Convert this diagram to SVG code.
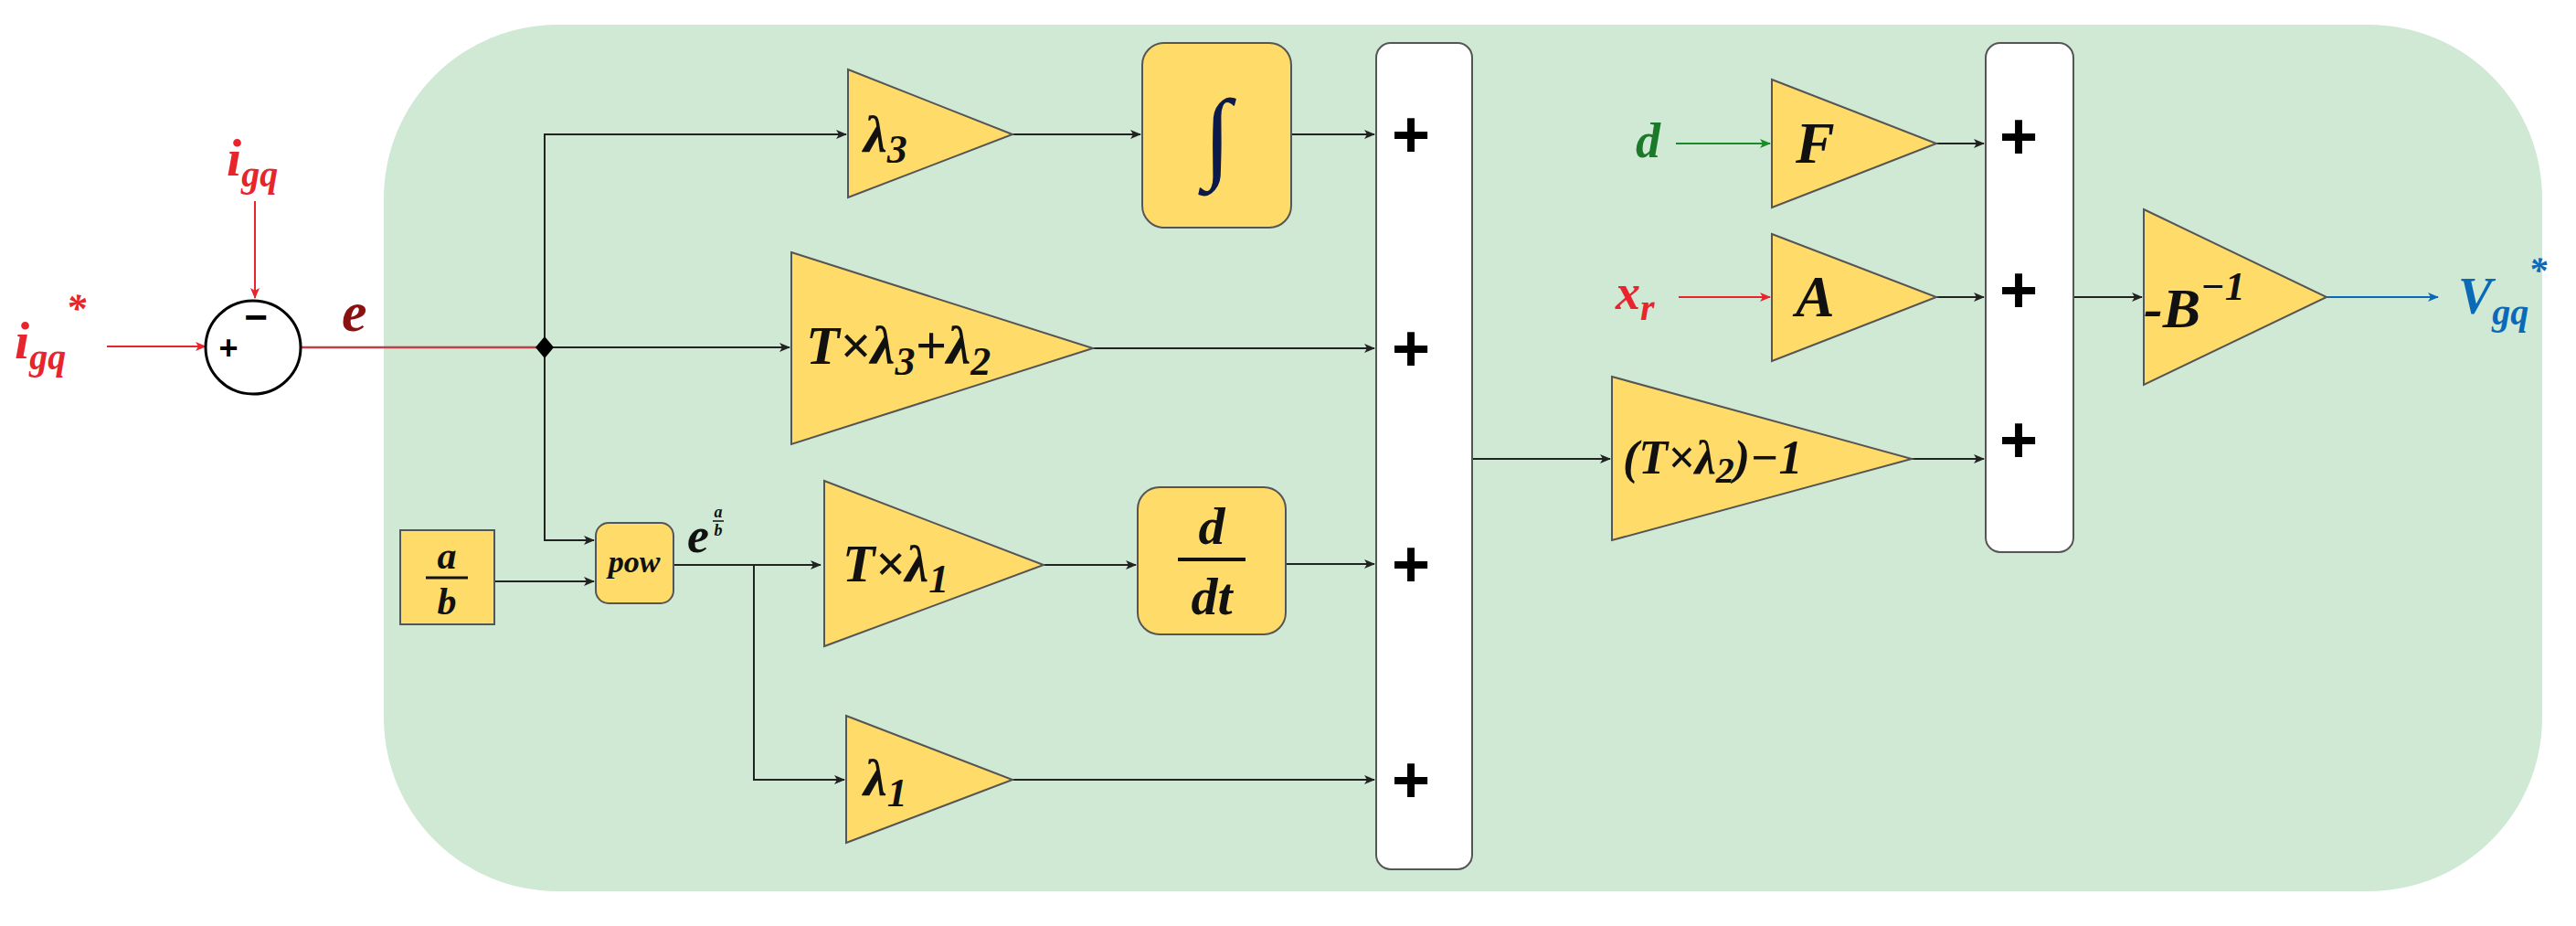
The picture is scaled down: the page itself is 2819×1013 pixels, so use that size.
<svg xmlns="http://www.w3.org/2000/svg" width="2819" height="1013" viewBox="0 0 2819 1013">
<defs>
<style>
.tri{fill:#ffdc6a;stroke:#555;stroke-width:2}
.box{fill:#ffdc6a;stroke:#555;stroke-width:2}
.sum{fill:#fff;stroke:#555;stroke-width:2}
.w{stroke:#222;stroke-width:2;fill:none}
.t{font-family:"Liberation Serif",serif;font-weight:bold;font-style:italic;fill:#111}
.p{font-family:"Liberation Sans",sans-serif;font-weight:bold;fill:#000;font-size:72px;text-anchor:middle}
</style>
<marker id="ak" markerWidth="12" markerHeight="10" refX="11" refY="5" orient="auto" markerUnits="userSpaceOnUse"><path d="M0,0 L12,5 L0,10 L3,5z" fill="#222"/></marker>
<marker id="ar" markerWidth="12" markerHeight="10" refX="11" refY="5" orient="auto" markerUnits="userSpaceOnUse"><path d="M0,0 L12,5 L0,10 L3,5z" fill="#e8242c"/></marker>
<marker id="ag" markerWidth="12" markerHeight="10" refX="11" refY="5" orient="auto" markerUnits="userSpaceOnUse"><path d="M0,0 L12,5 L0,10 L3,5z" fill="#1a8a2a"/></marker>
<marker id="ab" markerWidth="12" markerHeight="10" refX="11" refY="5" orient="auto" markerUnits="userSpaceOnUse"><path d="M0,0 L12,5 L0,10 L3,5z" fill="#0a6ab8"/></marker>
</defs>
<rect x="420" y="27" width="2362" height="948" rx="190" fill="#cfe9d4"/>
<g id="connectors">
<line x1="279" y1="220" x2="279" y2="326" stroke="#e8242c" stroke-width="2" marker-end="url(#ar)"/>
<line x1="117" y1="379" x2="225" y2="379" stroke="#e8242c" stroke-width="2" marker-end="url(#ar)"/>
<line x1="330" y1="380" x2="596" y2="380" stroke="#c0404a" stroke-width="2.5"/>
<polyline class="w" points="596,380 596,147 926,147" marker-end="url(#ak)"/>
<line class="w" x1="596" y1="380" x2="864" y2="380" marker-end="url(#ak)"/>
<polyline class="w" points="596,380 596,591 650,591" marker-end="url(#ak)"/>
<line class="w" x1="541" y1="636" x2="650" y2="636" marker-end="url(#ak)"/>
<line class="w" x1="737" y1="618" x2="898" y2="618" marker-end="url(#ak)"/>
<polyline class="w" points="825,618 825,853 924,853" marker-end="url(#ak)"/>
<line class="w" x1="1108" y1="147" x2="1248" y2="147" marker-end="url(#ak)"/>
<line class="w" x1="1142" y1="618" x2="1243" y2="618" marker-end="url(#ak)"/>
<line class="w" x1="1413" y1="147" x2="1504" y2="147" marker-end="url(#ak)"/>
<line class="w" x1="1196" y1="381" x2="1504" y2="381" marker-end="url(#ak)"/>
<line class="w" x1="1407" y1="617" x2="1504" y2="617" marker-end="url(#ak)"/>
<line class="w" x1="1108" y1="853" x2="1504" y2="853" marker-end="url(#ak)"/>
<line class="w" x1="1611" y1="502" x2="1762" y2="502" marker-end="url(#ak)"/>
<line class="w" x1="2092" y1="502" x2="2171" y2="502" marker-end="url(#ak)"/>
<line class="w" x1="2119" y1="157" x2="2171" y2="157" marker-end="url(#ak)"/>
<line class="w" x1="2119" y1="325" x2="2171" y2="325" marker-end="url(#ak)"/>
<line class="w" x1="2269" y1="325" x2="2344" y2="325" marker-end="url(#ak)"/>
<line x1="1834" y1="157" x2="1937" y2="157" stroke="#1a8a2a" stroke-width="2" marker-end="url(#ag)"/>
<line x1="1837" y1="325" x2="1937" y2="325" stroke="#e8242c" stroke-width="2" marker-end="url(#ar)"/>
<line x1="2546" y1="325" x2="2668" y2="325" stroke="#0a6ab8" stroke-width="2" marker-end="url(#ab)"/>
<path d="M596,368 L606,380 L596,392 L586,380z" fill="#000"/>
</g>
<g id="labels">
<text class="t" x="248" y="192" font-size="58" fill="#e8242c" style="fill:#e8242c">i<tspan font-size="40" dy="12">gq</tspan></text>
<text class="t" x="16" y="392" font-size="58" style="fill:#e8242c">i<tspan font-size="40" dy="12">gq</tspan><tspan font-size="44" dy="-52">*</tspan></text>
<text class="t" x="374" y="362" font-size="62" style="fill:#8b1010">e</text>
<text class="t" x="1790" y="172" font-size="54" style="fill:#1a7a2a">d</text>
<text class="t" x="1768" y="338" font-size="54" style="fill:#e8242c">x<tspan font-size="40" dy="12">r</tspan></text>
<text class="t" x="2690" y="343" font-size="56" style="fill:#0a6ab8">V<tspan font-size="40" dy="12">gq</tspan><tspan font-size="40" dy="-46">*</tspan></text>
<text class="t" x="752" y="604" font-size="54">e</text>
<text class="t" x="786" y="566" font-size="18" text-anchor="middle">a</text>
<line x1="780" y1="570" x2="792" y2="570" stroke="#111" stroke-width="1.5"/>
<text class="t" x="786" y="586" font-size="18" text-anchor="middle">b</text>
</g>
<g id="sum0">
<ellipse cx="277" cy="380" rx="52" ry="51" fill="#fff" stroke="#000" stroke-width="3"/>
<text x="250" y="393" font-family="Liberation Sans,sans-serif" font-weight="bold" font-size="36" text-anchor="middle">+</text>
<text x="280" y="362" font-family="Liberation Sans,sans-serif" font-weight="bold" font-size="44" text-anchor="middle">−</text>
</g>
<g id="lam3"><polygon class="tri" points="928,76 1108,147 928,216"/><text class="t" x="945" y="166" font-size="58">λ<tspan font-size="44" dy="12">3</tspan></text></g>
<g id="integ"><rect class="box" x="1250" y="47" width="163" height="202" rx="24"/><text class="t" x="1331" y="185" font-size="110" text-anchor="middle" style="fill:#0b1a4a">∫</text></g>
<g id="gain2"><polygon class="tri" points="866,276 1196,381 866,486"/><text class="t" x="882" y="398" font-size="60">T×λ<tspan font-size="44" dy="12">3</tspan><tspan dy="-12">+λ</tspan><tspan font-size="44" dy="12">2</tspan></text></g>
<g id="ab"><rect class="box" x="438" y="580" width="103" height="103"/><text class="t" x="489" y="622" font-size="42" text-anchor="middle">a</text><line x1="466" y1="632" x2="512" y2="632" stroke="#111" stroke-width="3"/><text class="t" x="489" y="672" font-size="42" text-anchor="middle">b</text></g>
<g id="pow"><rect class="box" x="652" y="572" width="85" height="88" rx="14"/><text class="t" x="694" y="626" font-size="34" text-anchor="middle">pow</text></g>
<g id="gain1"><polygon class="tri" points="902,526 1142,618 902,707"/><text class="t" x="922" y="636" font-size="58">T×λ<tspan font-size="44" dy="12">1</tspan></text></g>
<g id="ddt"><rect class="box" x="1245" y="533" width="162" height="161" rx="24"/><text class="t" x="1326" y="595" font-size="58" text-anchor="middle">d</text><line x1="1289" y1="612" x2="1363" y2="612" stroke="#111" stroke-width="4"/><text class="t" x="1326" y="672" font-size="58" text-anchor="middle">dt</text></g>
<g id="lam1"><polygon class="tri" points="926,783 1108,853 926,922"/><text class="t" x="945" y="870" font-size="58">λ<tspan font-size="44" dy="12">1</tspan></text></g>
<g id="sum1"><rect class="sum" x="1506" y="47" width="105" height="904" rx="16"/>
<text class="p" x="1544" y="172">+</text><text class="p" x="1544" y="406">+</text><text class="p" x="1544" y="642">+</text><text class="p" x="1544" y="878">+</text></g>
<g id="gain3"><polygon class="tri" points="1764,412 2092,502 1764,591"/><text class="t" x="1776" y="518" font-size="52">(T×λ<tspan font-size="40" dy="10">2</tspan><tspan dy="-10">)−1</tspan></text></g>
<g id="gF"><polygon class="tri" points="1939,87 2119,157 1939,227"/><text class="t" x="1965" y="178" font-size="64">F</text></g>
<g id="gA"><polygon class="tri" points="1939,256 2119,325 1939,395"/><text class="t" x="1965" y="346" font-size="64">A</text></g>
<g id="sum2"><rect class="sum" x="2173" y="47" width="96" height="557" rx="16"/>
<text class="p" x="2209" y="174">+</text><text class="p" x="2209" y="342">+</text><text class="p" x="2209" y="506">+</text></g>
<g id="gB"><polygon class="tri" points="2346,229 2546,325 2346,421"/><text class="t" x="2346" y="358" font-size="62">-B<tspan font-size="44" dy="-30">−1</tspan></text></g>
</svg>
